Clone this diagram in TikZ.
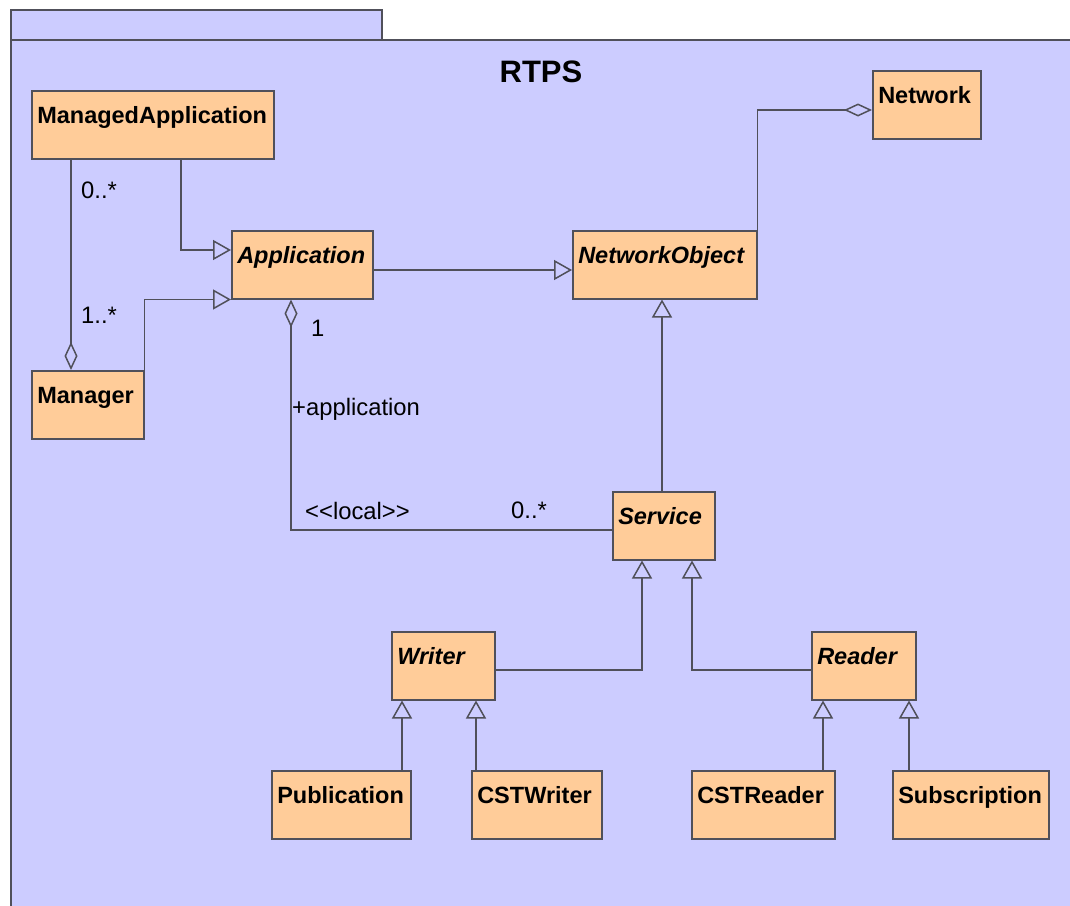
\documentclass[tikz,border=0pt]{standalone}
\usepackage{fontspec}
\setmainfont{Liberation Sans}
\usetikzlibrary{arrows.meta}
\definecolor{pkgfill}{RGB}{204,204,255}
\definecolor{clsfill}{RGB}{255,204,153}
\definecolor{edge}{RGB}{80,80,90}

\begin{document}
\begin{tikzpicture}[x=1pt,y=-1pt,
  cls/.style={draw=edge, line width=1.5pt, fill=clsfill, anchor=north west,
    inner xsep=5.5pt, inner ysep=0pt, text height=33pt, text depth=35pt,
    align=left, text=black, font=\fontsize{23.5}{26}\selectfont\bfseries},
  abs/.style={cls, font=\fontsize{23.5}{26}\selectfont\bfseries\itshape},
  conn/.style={draw=edge, line width=1.5pt},
  gen/.style={conn, -{Triangle[open, length=18pt, width=20pt]}},
  agg/.style={conn, -{Diamond[open, length=28pt, width=13pt]}},
  lbl/.style={font=\fontsize{23.8}{26}\selectfont, text=black, inner sep=0pt, anchor=west},
]
\useasboundingbox (0,0) rectangle (1070,905);
\clip (0,0) rectangle (1070,905);
\fill[white] (0,0) rectangle (1070,905);

% package frame with its tab
\path[draw=edge, line width=1.5pt, fill=pkgfill] (11,10) rectangle (382,40);
\path[draw=edge, line width=1.5pt, fill=pkgfill] (11,40) rectangle (1090,925);
\node[font=\fontsize{31}{35}\selectfont\bfseries, text=black] (title) at (541,72) {RTPS};

% classes
\node[cls, text width=231pt] (ma) at (31,90) {ManagedApplication};
\node[abs, text width=130pt] (app) at (231,230) {Application};
\node[abs, text width=173pt] (nobj) at (572,230) {NetworkObject};
\node[cls, text width=97pt] (net) at (872,70) {Network};
\node[cls, text width=101pt] (mgr) at (31,370) {Manager};
\node[abs, text width=91pt] (svc) at (612,491) {Service};
\node[abs, text width=92pt] (wr) at (391,631) {Writer};
\node[abs, text width=93pt] (rd) at (811,631) {Reader};
\node[cls, text width=128pt] (pub) at (271,770) {Publication};
\node[cls, text width=119pt] (cstw) at (471,770) {CSTWriter};
\node[cls, text width=132pt] (cstr) at (691,770) {CSTReader};
\node[cls, text width=145pt] (sub) at (892,770) {Subscription};

% generalizations
\draw[gen] (ma.south -| 181,0) |- (app.west |- 0,250);
\draw[gen] (mgr.north east) |- (app.south west);
\draw[gen] (app.east |- 0,270) -- (nobj.west |- 0,270);
\draw[gen] (svc.north -| 662,0) -- (nobj.south -| 662,0);
\draw[gen] (wr.east |- 0,670) -| (svc.south -| 642,0);
\draw[gen] (rd.west |- 0,670) -| (svc.south -| 692,0);
\draw[gen] (pub.north -| 402,0) -- (wr.south -| 402,0);
\draw[gen] (cstw.north -| 476,0) -- (wr.south -| 476,0);
\draw[gen] (cstr.north -| 823,0) -- (rd.south -| 823,0);
\draw[gen] (sub.north -| 909,0) -- (rd.south -| 909,0);

% aggregations
\draw[agg] (ma.south -| 71,0) -- (mgr.north -| 71,0);
\draw[agg] (nobj.north east) |- (net.west |- 0,110);
\draw[agg] (svc.west |- 0,530) -| (app.south -| 291,0);

% association ends
\node[lbl] (m1) at (81,190) {0..*};
\node[lbl] (m2) at (81,315) {1..*};
\node[lbl] (m3) at (311,328) {1};
\node[lbl] (role) at (292,409) {+application};
\node[lbl] (st) at (305,511) {<\kern0pt<local>\kern0pt>};
\node[lbl] (m4) at (511,510) {0..*};
\end{tikzpicture}
\end{document}
